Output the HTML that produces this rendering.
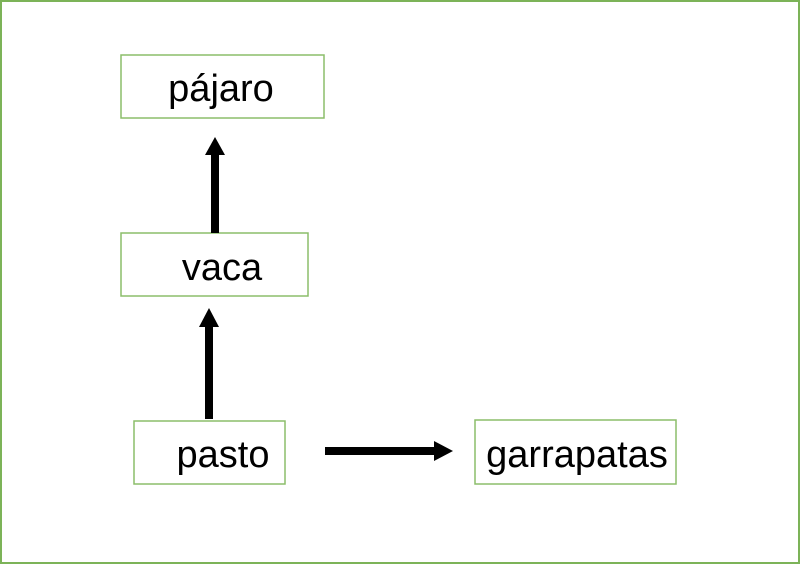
<!DOCTYPE html>
<html><head><style>
body{margin:0;width:800px;height:564px;background:#fff;overflow:hidden}
</style></head><body>
<svg width="800" height="564" xmlns="http://www.w3.org/2000/svg" font-family="Liberation Sans, sans-serif" font-size="38">
<rect x="1" y="1" width="798" height="562" fill="#fff" stroke="#7cb358" stroke-width="2"/>
<g fill="#fff" stroke="#8cbd6a" stroke-width="1.5">
<rect x="121" y="55" width="203" height="63"/>
<rect x="121" y="233" width="187" height="63"/>
<rect x="134" y="421" width="151" height="63"/>
<rect x="475" y="420" width="201" height="64"/>
</g>
<g fill="#000">
<text x="221" y="101" text-anchor="middle">pájaro</text>
<text x="222" y="280" text-anchor="middle">vaca</text>
<text x="223" y="467" text-anchor="middle">pasto</text>
<text x="577" y="467" text-anchor="middle">garrapatas</text>
<rect x="211" y="154" width="8" height="79"/>
<polygon points="215,137 205,155 225,155"/>
<rect x="205" y="326" width="8" height="93"/>
<polygon points="209,308 199,327 219,327"/>
<rect x="325" y="447" width="110" height="8"/>
<polygon points="453,451 434,441 434,461"/>
</g>
</svg>
</body></html>
